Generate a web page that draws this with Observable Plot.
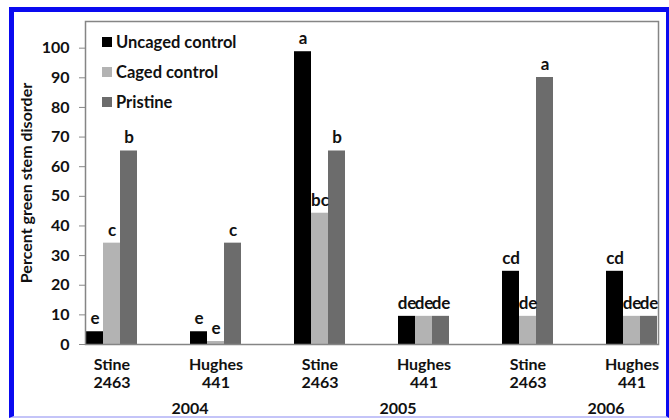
<!DOCTYPE html>
<html>
<head>
<meta charset="utf-8">
<script src="https://cdn.jsdelivr.net/npm/d3@7"></script>
<script src="https://cdn.jsdelivr.net/npm/@observablehq/plot@0.6"></script>
<style>
  html, body { margin: 0; padding: 0; background: #fff; }
  #wrap { position: relative; width: 669px; height: 420px; overflow: hidden; font-family: Lato, "Open Sans", sans-serif; }
  #border { position: absolute; left: 9px; top: 7px; width: 652px; height: 404px;
            border-top: 5px solid #0a0af0; border-left: 5px solid #0a0af0;
            border-right: 3px solid #0a0af0; border-bottom: 2px solid #c4c4f8; pointer-events: none; }
  #legend { position: absolute; left: 102px; top: 27px; font-weight: bold; font-size: 16.5px; color: #111; }
  #legend .row { height: 30px; display: flex; align-items: center; }
  #legend .sw { width: 10px; height: 10px; margin-right: 4px; }
  #chart { position: absolute; left: 0; top: 0; }
</style>
</head>
<body>
<div id="wrap">
  <div id="chart"></div>
  <div id="legend"></div>
  <div id="border"></div>
</div>
<script>
// ---- data ----
const varieties = ["Stine 2463", "Hughes 441", "Stine 2463", "Hughes 441", "Stine 2463", "Hughes 441"];
const years = ["2004", "2004", "2005", "2005", "2006", "2006"];
const series = ["Uncaged control", "Caged control", "Pristine"];
const colors = ["#000000", "#b3b3b3", "#6c6c6c"];
const uncaged = [4.3, 4.3, 98.8, 9.5, 24.7, 24.7];
const caged = [34.2, 1.0, 44.3, 9.5, 9.5, 9.5];
const pristine = [65.3, 34.2, 65.3, 9.5, 90.1, 9.5];
const uncagedLetters = ["e", "e", "a", "de", "cd", "cd"];
const cagedLetters = ["c", "e", "bc", "de", "de", "de"];
const pristineLetters = ["b", "c", "b", "de", "a", "de"];
const yTicks = [0, 10, 20, 30, 40, 50, 60, 70, 80, 90, 100];

// ---- build table ----
const keys = varieties.map((v, i) => `${v}|${years[i]}`);
const valuesBySeries = [uncaged, caged, pristine];
const lettersBySeries = [uncagedLetters, cagedLetters, pristineLetters];
const data = [];
keys.forEach((k, i) => {
  series.forEach((s, j) => {
    data.push({group: k, series: s, value: valuesBySeries[j][i], letter: lettersBySeries[j][i]});
  });
});
// year labels placed under the second group of each year
const yearLabels = keys.map((k, i) => ({group: k, year: years[i], series: series[0]}))
  .filter((d, i) => i % 2 === 1);

const chart = Plot.plot({
  width: 669,
  height: 420,
  marginTop: 21,
  marginBottom: 76,
  marginLeft: 84,
  marginRight: 10,
  style: {fontFamily: "Lato, 'Open Sans', sans-serif", fontSize: "16px", fontWeight: "bold", color: "#111", background: "transparent", overflow: "visible"},
  fx: {domain: keys, paddingInner: 0.49, paddingOuter: 0, label: null, axis: null},
  x: {domain: series, padding: 0, axis: null},
  y: {domain: [0, 109], label: null, axis: null},
  color: {domain: series, range: colors},
  marks: [
    Plot.barY(data, {fx: "group", x: "series", y: "value", fill: "series"}),
    Plot.text(data, {fx: "group", x: "series", y: "value", text: "letter", dy: -13, fill: "#111", fontSize: 17, fontWeight: "bold"}),
    Plot.axisY(yTicks, {anchor: "left", tickSize: 6, tickPadding: 10, stroke: "#888", label: "Percent green stem disorder",
      labelAnchor: "center", labelArrow: "none", labelOffset: 65, fontSize: 16, fontWeight: "bold", fill: "#111"}),
    Plot.axisFx({anchor: "bottom", tickSize: 0, tickPadding: 12, lineHeight: 1.15, label: null,
      tickFormat: d => d.split("|")[0].replace(" ", "\n"), fontSize: 16, fontWeight: "bold", fill: "#111"}),
    Plot.text(yearLabels, {fx: "group", x: "series", text: "year", frameAnchor: "bottom", dy: 69, dx: -9,
      fontSize: 16, fontWeight: "bold", fill: "#111"}),
    Plot.frame({facet: "super", stroke: "#858585", strokeWidth: 1.5})
  ]
});
document.getElementById("chart").appendChild(chart);

// ---- legend ----
const legend = document.getElementById("legend");
series.forEach((s, j) => {
  const row = document.createElement("div");
  row.className = "row";
  const sw = document.createElement("span");
  sw.className = "sw";
  sw.style.background = colors[j];
  const label = document.createElement("span");
  label.textContent = s;
  row.appendChild(sw);
  row.appendChild(label);
  legend.appendChild(row);
});
</script>
</body>
</html>
